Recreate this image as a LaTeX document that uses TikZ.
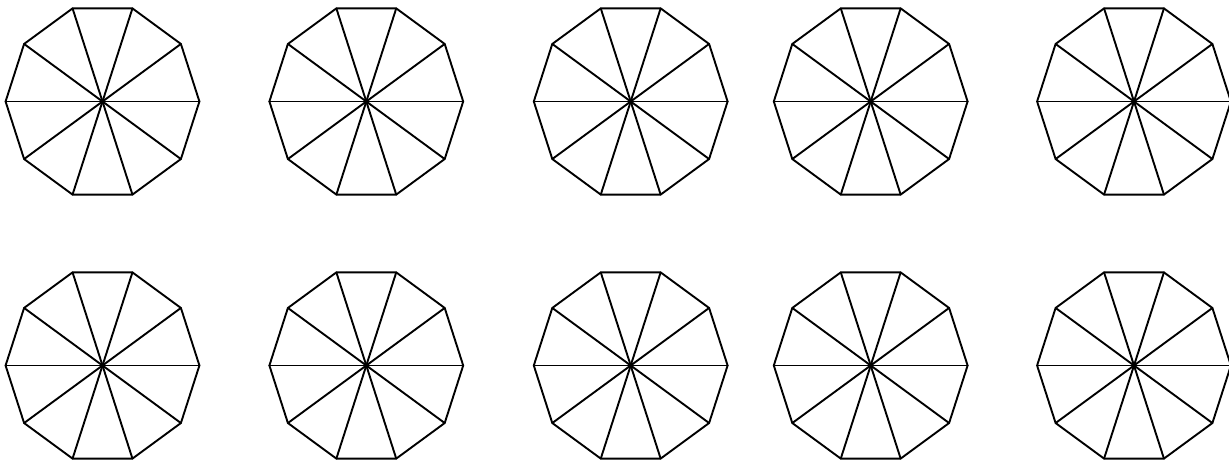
\documentclass[tikz,border=0pt]{standalone}
\begin{document}
\begin{tikzpicture}[x=1pt,y=1pt,
  edge/.style={line width=1.9pt,line join=round,line cap=round,black}]
\useasboundingbox (0,0) rectangle (1229,465);
\foreach \cx [count=\i] in {102.5,366.3,630.7,870.7,1134}{
  \foreach \cy [count=\j] in {363.5,99.5}{
    \begin{scope}[shift={(\cx,\cy)},xscale=97,yscale=98]
      \coordinate (c\i\j) at (0,0);
      \foreach \k in {0,...,9}{
        \coordinate (v\i\j\k) at ({cos(36*\k)},{sin(36*\k)});
      }
      \draw[edge] (v\i\j0) -- (v\i\j1) -- (v\i\j2) -- (v\i\j3) -- (v\i\j4) -- (v\i\j5) -- (v\i\j6) -- (v\i\j7) -- (v\i\j8) -- (v\i\j9) -- cycle;
      \foreach \k in {0,...,9}{
        \draw[edge] (c\i\j) -- (v\i\j\k);
      }
    \end{scope}
  }
}
\end{tikzpicture}
\end{document}
